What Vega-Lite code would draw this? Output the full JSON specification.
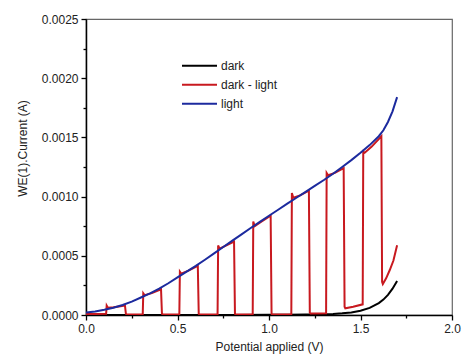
{
  "$schema": "https://vega.github.io/schema/vega-lite/v6.json",
  "width": 366,
  "height": 296,
  "autosize": {"type": "none"},
  "padding": {"left": 86, "top": 19, "right": 10, "bottom": 43},
  "background": "white",
  "config": {
    "view": {"stroke": "#666666", "strokeWidth": 1.2},
    "font": "Liberation Sans"
  },
  "data": {
    "values": [
      {"s": "dark", "i": 1, "v": 0.0, "c": 0.0},
      {"s": "dark", "i": 2, "v": 0.2, "c": 0.000001},
      {"s": "dark", "i": 3, "v": 0.4, "c": 0.000001},
      {"s": "dark", "i": 4, "v": 0.6, "c": 0.000001},
      {"s": "dark", "i": 5, "v": 0.8, "c": 0.000001},
      {"s": "dark", "i": 6, "v": 1.0, "c": 0.000002},
      {"s": "dark", "i": 7, "v": 1.1, "c": 0.000003},
      {"s": "dark", "i": 8, "v": 1.2, "c": 0.000004},
      {"s": "dark", "i": 9, "v": 1.3, "c": 0.000006},
      {"s": "dark", "i": 10, "v": 1.35, "c": 0.000009},
      {"s": "dark", "i": 11, "v": 1.4, "c": 0.000014},
      {"s": "dark", "i": 12, "v": 1.45, "c": 0.000022},
      {"s": "dark", "i": 13, "v": 1.5, "c": 0.000036},
      {"s": "dark", "i": 14, "v": 1.55, "c": 0.00006},
      {"s": "dark", "i": 15, "v": 1.6, "c": 0.0001},
      {"s": "dark", "i": 16, "v": 1.625, "c": 0.00013},
      {"s": "dark", "i": 17, "v": 1.65, "c": 0.00017},
      {"s": "dark", "i": 18, "v": 1.675, "c": 0.000222},
      {"s": "dark", "i": 19, "v": 1.7, "c": 0.000288},

      {"s": "dark - light", "i": 101, "v": 0.0, "c": 0.000008},
      {"s": "dark - light", "i": 102, "v": 0.05, "c": 0.000009},
      {"s": "dark - light", "i": 103, "v": 0.11, "c": 0.00001},
      {"s": "dark - light", "i": 104, "v": 0.113, "c": 0.00008},
      {"s": "dark - light", "i": 105, "v": 0.12, "c": 0.000062},
      {"s": "dark - light", "i": 106, "v": 0.15, "c": 0.000065},
      {"s": "dark - light", "i": 107, "v": 0.18, "c": 0.000072},
      {"s": "dark - light", "i": 108, "v": 0.213, "c": 0.00008},
      {"s": "dark - light", "i": 109, "v": 0.218, "c": 0.00001},
      {"s": "dark - light", "i": 110, "v": 0.222, "c": 0.000005},
      {"s": "dark - light", "i": 111, "v": 0.31, "c": 0.000005},
      {"s": "dark - light", "i": 112, "v": 0.313, "c": 0.000183},
      {"s": "dark - light", "i": 113, "v": 0.32, "c": 0.000168},
      {"s": "dark - light", "i": 114, "v": 0.36, "c": 0.000185},
      {"s": "dark - light", "i": 115, "v": 0.41, "c": 0.000217},
      {"s": "dark - light", "i": 116, "v": 0.415, "c": 0.00001},
      {"s": "dark - light", "i": 117, "v": 0.42, "c": 0.000005},
      {"s": "dark - light", "i": 118, "v": 0.51, "c": 0.000005},
      {"s": "dark - light", "i": 119, "v": 0.513, "c": 0.000366},
      {"s": "dark - light", "i": 120, "v": 0.52, "c": 0.00035},
      {"s": "dark - light", "i": 121, "v": 0.56, "c": 0.000375},
      {"s": "dark - light", "i": 122, "v": 0.611, "c": 0.000415},
      {"s": "dark - light", "i": 123, "v": 0.616, "c": 0.00001},
      {"s": "dark - light", "i": 124, "v": 0.62, "c": 0.000005},
      {"s": "dark - light", "i": 125, "v": 0.719, "c": 0.000005},
      {"s": "dark - light", "i": 126, "v": 0.722, "c": 0.000587},
      {"s": "dark - light", "i": 127, "v": 0.73, "c": 0.00056},
      {"s": "dark - light", "i": 128, "v": 0.77, "c": 0.00059},
      {"s": "dark - light", "i": 129, "v": 0.809, "c": 0.00062},
      {"s": "dark - light", "i": 130, "v": 0.814, "c": 0.00001},
      {"s": "dark - light", "i": 131, "v": 0.818, "c": 0.000005},
      {"s": "dark - light", "i": 132, "v": 0.911, "c": 0.000005},
      {"s": "dark - light", "i": 133, "v": 0.914, "c": 0.00079},
      {"s": "dark - light", "i": 134, "v": 0.922, "c": 0.00075},
      {"s": "dark - light", "i": 135, "v": 0.96, "c": 0.00079},
      {"s": "dark - light", "i": 136, "v": 1.009, "c": 0.00084},
      {"s": "dark - light", "i": 137, "v": 1.014, "c": 0.00001},
      {"s": "dark - light", "i": 138, "v": 1.018, "c": 0.000005},
      {"s": "dark - light", "i": 139, "v": 1.122, "c": 0.000006},
      {"s": "dark - light", "i": 140, "v": 1.125, "c": 0.00103},
      {"s": "dark - light", "i": 141, "v": 1.133, "c": 0.00099},
      {"s": "dark - light", "i": 142, "v": 1.17, "c": 0.00101},
      {"s": "dark - light", "i": 143, "v": 1.218, "c": 0.00105},
      {"s": "dark - light", "i": 144, "v": 1.223, "c": 0.00002},
      {"s": "dark - light", "i": 145, "v": 1.227, "c": 0.000012},
      {"s": "dark - light", "i": 146, "v": 1.312, "c": 0.000014},
      {"s": "dark - light", "i": 147, "v": 1.315, "c": 0.0012},
      {"s": "dark - light", "i": 148, "v": 1.323, "c": 0.00118},
      {"s": "dark - light", "i": 149, "v": 1.36, "c": 0.0012},
      {"s": "dark - light", "i": 150, "v": 1.408, "c": 0.00124},
      {"s": "dark - light", "i": 151, "v": 1.413, "c": 0.00007},
      {"s": "dark - light", "i": 152, "v": 1.417, "c": 0.000057},
      {"s": "dark - light", "i": 153, "v": 1.46, "c": 0.00007},
      {"s": "dark - light", "i": 154, "v": 1.512, "c": 0.00009},
      {"s": "dark - light", "i": 155, "v": 1.515, "c": 0.00138},
      {"s": "dark - light", "i": 156, "v": 1.523, "c": 0.00137},
      {"s": "dark - light", "i": 157, "v": 1.56, "c": 0.00142},
      {"s": "dark - light", "i": 158, "v": 1.614, "c": 0.00151},
      {"s": "dark - light", "i": 159, "v": 1.618, "c": 0.00028},
      {"s": "dark - light", "i": 160, "v": 1.622, "c": 0.000262},
      {"s": "dark - light", "i": 161, "v": 1.64, "c": 0.00031},
      {"s": "dark - light", "i": 162, "v": 1.66, "c": 0.00038},
      {"s": "dark - light", "i": 163, "v": 1.68, "c": 0.00046},
      {"s": "dark - light", "i": 164, "v": 1.7, "c": 0.00059},

      {"s": "light", "i": 201, "v": 0.0, "c": 0.00002},
      {"s": "light", "i": 202, "v": 0.05, "c": 0.00003},
      {"s": "light", "i": 203, "v": 0.1, "c": 0.000045},
      {"s": "light", "i": 204, "v": 0.15, "c": 0.000062},
      {"s": "light", "i": 205, "v": 0.2, "c": 0.000085},
      {"s": "light", "i": 206, "v": 0.25, "c": 0.000113},
      {"s": "light", "i": 207, "v": 0.3, "c": 0.000148},
      {"s": "light", "i": 208, "v": 0.35, "c": 0.000183},
      {"s": "light", "i": 209, "v": 0.4, "c": 0.000222},
      {"s": "light", "i": 210, "v": 0.45, "c": 0.000268},
      {"s": "light", "i": 211, "v": 0.5, "c": 0.000318},
      {"s": "light", "i": 212, "v": 0.55, "c": 0.000366},
      {"s": "light", "i": 213, "v": 0.6, "c": 0.000415},
      {"s": "light", "i": 214, "v": 0.65, "c": 0.000467},
      {"s": "light", "i": 215, "v": 0.7, "c": 0.00052},
      {"s": "light", "i": 216, "v": 0.75, "c": 0.000574},
      {"s": "light", "i": 217, "v": 0.8, "c": 0.000628},
      {"s": "light", "i": 218, "v": 0.85, "c": 0.000681},
      {"s": "light", "i": 219, "v": 0.9, "c": 0.000735},
      {"s": "light", "i": 220, "v": 0.95, "c": 0.000787},
      {"s": "light", "i": 221, "v": 1.0, "c": 0.000838},
      {"s": "light", "i": 222, "v": 1.05, "c": 0.000889},
      {"s": "light", "i": 223, "v": 1.1, "c": 0.00094},
      {"s": "light", "i": 224, "v": 1.15, "c": 0.00099},
      {"s": "light", "i": 225, "v": 1.2, "c": 0.00104},
      {"s": "light", "i": 226, "v": 1.25, "c": 0.00109},
      {"s": "light", "i": 227, "v": 1.3, "c": 0.00114},
      {"s": "light", "i": 228, "v": 1.35, "c": 0.001193},
      {"s": "light", "i": 229, "v": 1.4, "c": 0.00125},
      {"s": "light", "i": 230, "v": 1.45, "c": 0.001308},
      {"s": "light", "i": 231, "v": 1.5, "c": 0.00137},
      {"s": "light", "i": 232, "v": 1.55, "c": 0.001435},
      {"s": "light", "i": 233, "v": 1.6, "c": 0.00151},
      {"s": "light", "i": 234, "v": 1.625, "c": 0.00156},
      {"s": "light", "i": 235, "v": 1.65, "c": 0.00163},
      {"s": "light", "i": 236, "v": 1.675, "c": 0.00172},
      {"s": "light", "i": 237, "v": 1.7, "c": 0.00184}
    ]
  },
  "mark": {"type": "line", "strokeWidth": 2, "clip": true},
  "encoding": {
    "x": {
      "field": "v",
      "type": "quantitative",
      "scale": {"domain": [0, 2], "nice": false, "zero": false},
      "axis": {
        "title": "Potential applied (V)",
        "values": [0, 0.25, 0.5, 0.75, 1, 1.25, 1.5, 1.75, 2],
        "labelExpr": "abs(datum.value*2 - round(datum.value*2)) > 0.01 ? '' : format(datum.value, '.1f')",
        "tickSize": {"condition": {"test": "abs(datum.value*2 - round(datum.value*2)) > 0.01", "value": 3}, "value": 5},
        "grid": false,
        "domainColor": "#000000",
        "domainWidth": 1.5,
        "tickColor": "#000000",
        "tickWidth": 1.3,
        "labelFontSize": 12,
        "labelColor": "#222222",
        "labelPadding": 3,
        "labelFlush": false,
        "labelOverlap": false,
        "titleFontSize": 12,
        "titleFontWeight": "normal",
        "titleColor": "#222222",
        "titlePadding": 7
      }
    },
    "y": {
      "field": "c",
      "type": "quantitative",
      "scale": {"domain": [0, 0.0025], "nice": false, "zero": false},
      "axis": {
        "title": "WE(1).Current (A)",
        "values": [0, 0.00025, 0.0005, 0.00075, 0.001, 0.00125, 0.0015, 0.00175, 0.002, 0.00225, 0.0025],
        "labelExpr": "abs(datum.value*2000 - round(datum.value*2000)) > 0.01 ? '' : format(datum.value, '.4f')",
        "tickSize": {"condition": {"test": "abs(datum.value*2000 - round(datum.value*2000)) > 0.01", "value": 3}, "value": 5},
        "grid": false,
        "domainColor": "#000000",
        "domainWidth": 1.5,
        "tickColor": "#000000",
        "tickWidth": 1.3,
        "labelFontSize": 12,
        "labelColor": "#222222",
        "labelPadding": 3,
        "labelFlush": false,
        "labelOverlap": false,
        "titleFontSize": 12,
        "titleFontWeight": "normal",
        "titleColor": "#222222",
        "titlePadding": 12,
        "titleY": 129
      }
    },
    "color": {
      "field": "s",
      "type": "nominal",
      "scale": {"domain": ["dark", "dark - light", "light"], "range": ["#000000", "#c8191f", "#1c2a9e"]},
      "legend": {
        "title": null,
        "orient": "none",
        "legendX": 95,
        "legendY": 37.5,
        "symbolType": "stroke",
        "symbolSize": 1225,
        "symbolStrokeWidth": 2,
        "clipHeight": 18.5,
        "labelFontSize": 12,
        "labelColor": "#222222",
        "labelOffset": 3,
        "rowPadding": 0
      }
    },
    "order": {"field": "i", "type": "quantitative"}
  }
}
